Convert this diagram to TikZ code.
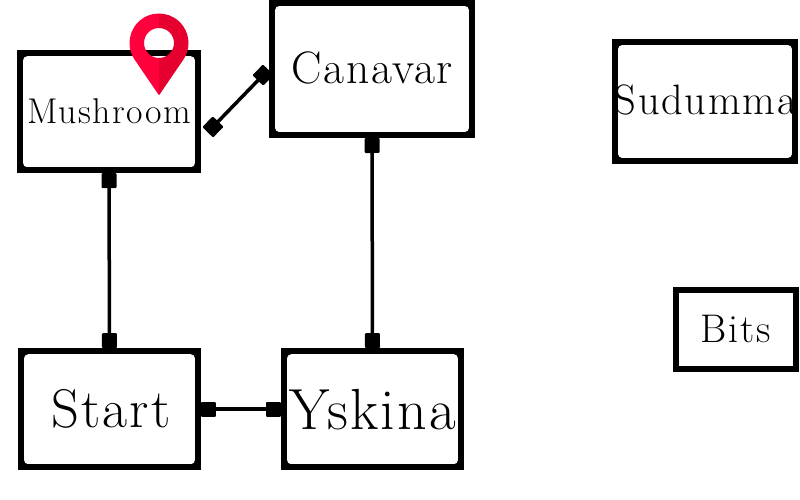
\documentclass[tikz,border=0pt]{standalone}
\usepackage{fontspec}
\setmainfont[LetterSpace=4]{Latin Modern Roman}
\usetikzlibrary{arrows.meta}
\definecolor{pinL}{HTML}{FF003C}
\definecolor{pinR}{HTML}{E60030}
\tikzset{
  x=1pt,y=-1pt,
  boxbase/.style={draw=black,fill=black,line width=6pt,rectangle,inner sep=0pt,minimum width=#1-6pt},
  box/.style={boxbase=#1,
    path picture={\fill[white,rounded corners=5pt]
      ([shift={(2.8pt,2.8pt)}]path picture bounding box.south west) rectangle
      ([shift={(-2.8pt,-2.8pt)}]path picture bounding box.north east);}},
  sharpbox/.style={boxbase=#1,
    path picture={\fill[white]
      ([shift={(2.8pt,2.8pt)}]path picture bounding box.south west) rectangle
      ([shift={(-2.8pt,-2.8pt)}]path picture bounding box.north east);}},
  endsq/.tip={Square[length=15pt,width=15pt,round,line width=2pt]},
  conn/.style={line width=3.5pt,endsq-endsq},
  pinshape/.style={even odd rule}
}
\begin{document}
\begin{tikzpicture}
\useasboundingbox (0,0) rectangle (800,500);
\node[box=184pt,minimum height=117pt,font=\fontsize{35.8}{36}\selectfont] (mush) at (109,111.7) {Mushroom};
\node[box=206pt,minimum height=132pt,font=\fontsize{45.5}{46}\selectfont] (can) at (372,69) {\raisebox{2pt}{Canavar}};
\node[box=186pt,minimum height=119pt,font=\fontsize{42.5}{43}\selectfont] (sud) at (705,101.5) {\makebox[0pt]{\hspace{1.5pt}\raisebox{3pt}{Sudumma}}};
\node[sharpbox=126pt,minimum height=78.5pt,font=\fontsize{40}{40}\selectfont] (bits) at (735.7,329.5) {\raisebox{2pt}{Bits}};
\node[box=183pt,minimum height=116pt,font=\fontsize{54.5}{55}\selectfont] (start) at (109.5,409.2) {\hspace{3pt}Start};
\node[box=183pt,minimum height=116pt,font=\fontsize{58}{58}\selectfont] (ysk) at (372.5,409.2) {Yskina\hspace{3pt}};
\coordinate (d1) at (207.7,132.3);
\coordinate (d2) at (268.3,69.7);
\draw[conn] (mush.south) -- (start.north);
\draw[conn] (can.south) -- (ysk.north);
\draw[conn] (start.east) -- (ysk.west);
\draw[conn] (d1) -- (d2);
% map pin
\begin{scope}[shift={(159pt,-43pt)},x=1pt,y=1pt]
\begin{scope}
\clip (-40,-60) rectangle (0,40);
\fill[pinL,pinshape] (-24.07,-17.06) arc[start angle=215.3,end angle=-35.3,radius=29.5]
  -- (1.6,-50) .. controls (0,-52.5) .. (-1.6,-50) -- cycle
  (0,0) circle[radius=15];
\end{scope}
\begin{scope}
\clip (0,-60) rectangle (40,40);
\fill[pinR,pinshape] (-24.07,-17.06) arc[start angle=215.3,end angle=-35.3,radius=29.5]
  -- (1.6,-50) .. controls (0,-52.5) .. (-1.6,-50) -- cycle
  (0,0) circle[radius=15];
\end{scope}
\end{scope}
\end{tikzpicture}
\end{document}
